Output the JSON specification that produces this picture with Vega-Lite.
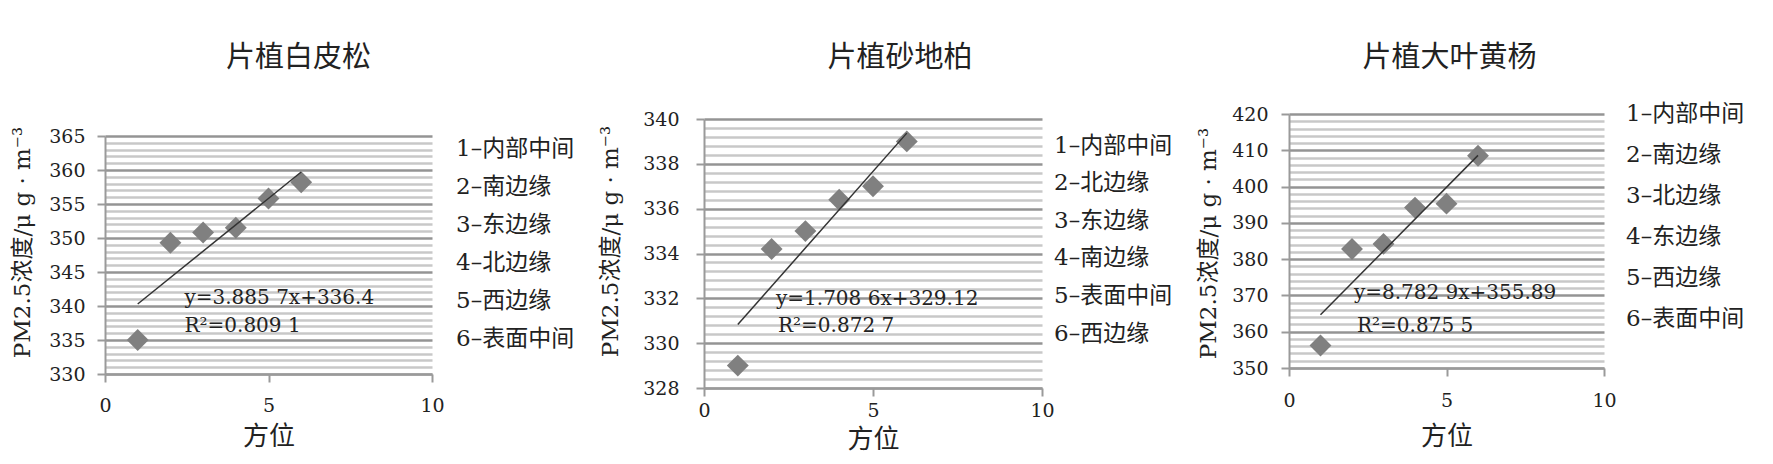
{
  "$schema": "https://vega.github.io/schema/vega-lite/v6.json",
  "background": "white",
  "padding": {"left": 11, "top": 44, "right": 5, "bottom": 0},
  "spacing": 24,
  "datasets": {
    "p1": [
      {"pos": 1, "pm": 335.0, "label": "1–内部中间"},
      {"pos": 2, "pm": 349.3, "label": "2–南边缘"},
      {"pos": 3, "pm": 350.8, "label": "3–东边缘"},
      {"pos": 4, "pm": 351.5, "label": "4–北边缘"},
      {"pos": 5, "pm": 355.8, "label": "5–西边缘"},
      {"pos": 6, "pm": 358.2, "label": "6–表面中间"}
    ],
    "p1t": [{"pos": 1, "pm": 340.29}, {"pos": 6, "pm": 359.71}],
    "p1e": [
      {"pos": 2.43, "pm": 341.2, "text": "y=3.885 7x+336.4"},
      {"pos": 2.43, "pm": 337.1, "text": "R²=0.809 1"}
    ],
    "p2": [
      {"pos": 1, "pm": 329.0, "label": "1–内部中间"},
      {"pos": 2, "pm": 334.2, "label": "2–北边缘"},
      {"pos": 3, "pm": 335.0, "label": "3–东边缘"},
      {"pos": 4, "pm": 336.4, "label": "4–南边缘"},
      {"pos": 5, "pm": 337.0, "label": "5–表面中间"},
      {"pos": 6, "pm": 339.0, "label": "6–西边缘"}
    ],
    "p2t": [{"pos": 1, "pm": 330.83}, {"pos": 6, "pm": 339.37}],
    "p2e": [
      {"pos": 2.13, "pm": 331.99, "text": "y=1.708 6x+329.12"},
      {"pos": 2.19, "pm": 330.78, "text": "R²=0.872 7"}
    ],
    "p3": [
      {"pos": 1, "pm": 356.2, "label": "1–内部中间"},
      {"pos": 2, "pm": 382.8, "label": "2–南边缘"},
      {"pos": 3, "pm": 384.2, "label": "3–北边缘"},
      {"pos": 4, "pm": 394.2, "label": "4–东边缘"},
      {"pos": 5, "pm": 395.3, "label": "5–西边缘"},
      {"pos": 6, "pm": 408.5, "label": "6–表面中间"}
    ],
    "p3t": [{"pos": 1, "pm": 364.67}, {"pos": 6, "pm": 408.59}],
    "p3e": [
      {"pos": 2.06, "pm": 370.7, "text": "y=8.782 9x+355.89"},
      {"pos": 2.16, "pm": 361.6, "text": "R²=0.875 5"}
    ]
  },
  "hconcat": [
    {
      "width": 327, "height": 276,
      "title": {"text": "片植白皮松", "font": "Noto Sans CJK SC", "fontSize": 29, "fontWeight": "normal", "color": "#222", "frame": "group", "anchor": "middle", "dx": 30, "offset": 25},
      "layer": [
        {
          "data": {"name": "p1"},
          "mark": {"type": "point", "shape": "diamond", "filled": true, "size": 480, "opacity": 1},
          "encoding": {
            "x": {"field": "pos", "type": "quantitative", "scale": {"domain": [0, 10], "nice": false},
              "axis": {"values": [0, 5, 10], "tickCount": 100, "grid": false, "format": "d", "labelFlush": false, "title": "方位", "titleFont": "Noto Sans CJK SC", "titleFontSize": 26, "titleFontWeight": "normal", "titleColor": "#222", "titlePadding": 8, "labelFont": "DejaVu Serif", "labelFontSize": 19, "labelColor": "#222", "labelPadding": 14, "tickSize": 8, "tickColor": "#9a9a9a", "tickWidth": 2, "domainColor": "#9a9a9a", "domainWidth": 2}},
            "y": {"field": "pm", "type": "quantitative", "scale": {"domain": [330, 365], "range": [276, 38], "nice": false, "zero": false},
              "axis": {"values": [330,331,332,333,334,335,336,337,338,339,340,341,342,343,344,345,346,347,348,349,350,351,352,353,354,355,356,357,358,359,360,361,362,363,364,365],
                "tickCount": 100, "tickMinStep": 0.01, "labelExpr": "datum.value % 5 === 0 ? format(datum.value, 'd') : ''", "labelOverlap": false, "labelFont": "DejaVu Serif", "labelFontSize": 19, "labelColor": "#222", "labelPadding": 12,
                "grid": true, "gridColor": {"condition": {"test": "datum.value % 5 === 0", "value": "#949494"}, "value": "#c8c8c8"}, "gridWidth": 2.5,
                "tickSize": 8, "tickWidth": 2, "tickColor": "#9a9a9a", "tickOpacity": {"condition": {"test": "datum.value % 5 === 0", "value": 1}, "value": 0},
                "domainColor": "#9a9a9a", "domainWidth": 2,
                "title": "PM2.5浓度/μ g · m⁻³", "titleFont": "DejaVu Serif, Noto Sans CJK SC", "titleFontSize": 23, "titleFontWeight": "normal", "titleColor": "#222", "titleX": -83, "titleY": 144, "titleBaseline": "middle", "titleAlign": "center", "titleAngle": -90}},
            "color": {"field": "label", "type": "nominal", "scale": {"range": ["#808080"]},
              "legend": {"orient": "none", "legendX": 328, "legendY": 39, "title": null, "symbolOpacity": 0, "symbolSize": 0, "symbolStrokeWidth": 0, "labelOffset": 0, "padding": 0, "labelFont": "DejaVu Serif, Noto Sans CJK SC", "labelFontSize": 23, "labelColor": "#222", "rowPadding": 14, "labelLimit": 300}}
          }
        },
        {
          "data": {"name": "p1t"},
          "mark": {"type": "line", "color": "#333", "strokeWidth": 1.5},
          "encoding": {"x": {"field": "pos", "type": "quantitative"}, "y": {"field": "pm", "type": "quantitative"}}
        },
        {
          "data": {"name": "p1e"},
          "mark": {"type": "text", "align": "left", "baseline": "middle", "font": "DejaVu Serif", "fontSize": 20, "color": "#222"},
          "encoding": {"x": {"field": "pos", "type": "quantitative"}, "y": {"field": "pm", "type": "quantitative"}, "text": {"field": "text"}}
        }
      ]
    },
    {
      "width": 338, "height": 290,
      "title": {"text": "片植砂地柏", "font": "Noto Sans CJK SC", "fontSize": 29, "fontWeight": "normal", "color": "#222", "frame": "group", "anchor": "middle", "dx": 27, "offset": 25},
      "layer": [
        {
          "data": {"name": "p2"},
          "mark": {"type": "point", "shape": "diamond", "filled": true, "size": 480, "opacity": 1},
          "encoding": {
            "x": {"field": "pos", "type": "quantitative", "scale": {"domain": [0, 10], "nice": false},
              "axis": {"values": [0, 5, 10], "tickCount": 100, "grid": false, "format": "d", "labelFlush": false, "title": "方位", "titleFont": "Noto Sans CJK SC", "titleFontSize": 26, "titleFontWeight": "normal", "titleColor": "#222", "titlePadding": 6, "labelFont": "DejaVu Serif", "labelFontSize": 19, "labelColor": "#222", "labelPadding": 5, "tickSize": 8, "tickColor": "#9a9a9a", "tickWidth": 2, "domainColor": "#9a9a9a", "domainWidth": 2}},
            "y": {"field": "pm", "type": "quantitative", "scale": {"domain": [328, 340], "range": [290, 21], "nice": false, "zero": false},
              "axis": {"values": [328,328.4,328.8,329.2,329.6,330,330.4,330.8,331.2,331.6,332,332.4,332.8,333.2,333.6,334,334.4,334.8,335.2,335.6,336,336.4,336.8,337.2,337.6,338,338.4,338.8,339.2,339.6,340],
                "tickCount": 100, "tickMinStep": 0.01, "labelExpr": "datum.value % 2 === 0 ? format(datum.value, 'd') : ''", "labelOverlap": false, "labelFont": "DejaVu Serif", "labelFontSize": 19, "labelColor": "#222", "labelPadding": 17,
                "grid": true, "gridColor": {"condition": {"test": "datum.value % 2 === 0", "value": "#949494"}, "value": "#c8c8c8"}, "gridWidth": 2.5,
                "tickSize": 8, "tickWidth": 2, "tickColor": "#9a9a9a", "tickOpacity": {"condition": {"test": "datum.value % 2 === 0", "value": 1}, "value": 0},
                "domainColor": "#9a9a9a", "domainWidth": 2,
                "title": "PM2.5浓度/μ g · m⁻³", "titleFont": "DejaVu Serif, Noto Sans CJK SC", "titleFontSize": 23, "titleFontWeight": "normal", "titleColor": "#222", "titleX": -94, "titleY": 143, "titleBaseline": "middle", "titleAlign": "center", "titleAngle": -90}},
            "color": {"field": "label", "type": "nominal", "scale": {"range": ["#808080"]},
              "legend": {"orient": "none", "legendX": 327, "legendY": 36, "title": null, "symbolOpacity": 0, "symbolSize": 0, "symbolStrokeWidth": 0, "labelOffset": 0, "padding": 0, "labelFont": "DejaVu Serif, Noto Sans CJK SC", "labelFontSize": 23, "labelColor": "#222", "rowPadding": 13.6, "labelLimit": 300}}
          }
        },
        {
          "data": {"name": "p2t"},
          "mark": {"type": "line", "color": "#333", "strokeWidth": 1.5},
          "encoding": {"x": {"field": "pos", "type": "quantitative"}, "y": {"field": "pm", "type": "quantitative"}}
        },
        {
          "data": {"name": "p2e"},
          "mark": {"type": "text", "align": "left", "baseline": "middle", "font": "DejaVu Serif", "fontSize": 20, "color": "#222"},
          "encoding": {"x": {"field": "pos", "type": "quantitative"}, "y": {"field": "pm", "type": "quantitative"}, "text": {"field": "text"}}
        }
      ]
    },
    {
      "width": 315, "height": 270,
      "title": {"text": "片植大叶黄杨", "font": "Noto Sans CJK SC", "fontSize": 29, "fontWeight": "normal", "color": "#222", "frame": "group", "anchor": "middle", "dx": 3, "offset": 25},
      "layer": [
        {
          "data": {"name": "p3"},
          "mark": {"type": "point", "shape": "diamond", "filled": true, "size": 480, "opacity": 1},
          "encoding": {
            "x": {"field": "pos", "type": "quantitative", "scale": {"domain": [0, 10], "nice": false},
              "axis": {"values": [0, 5, 10], "tickCount": 100, "grid": false, "format": "d", "labelFlush": false, "title": "方位", "titleFont": "Noto Sans CJK SC", "titleFontSize": 26, "titleFontWeight": "normal", "titleColor": "#222", "titlePadding": 13, "labelFont": "DejaVu Serif", "labelFontSize": 19, "labelColor": "#222", "labelPadding": 15, "tickSize": 8, "tickColor": "#9a9a9a", "tickWidth": 2, "domainColor": "#9a9a9a", "domainWidth": 2}},
            "y": {"field": "pm", "type": "quantitative", "scale": {"domain": [350, 420], "range": [270, 16], "nice": false, "zero": false},
              "axis": {"values": [350,352,354,356,358,360,362,364,366,368,370,372,374,376,378,380,382,384,386,388,390,392,394,396,398,400,402,404,406,408,410,412,414,416,418,420],
                "tickCount": 100, "tickMinStep": 0.01, "labelExpr": "datum.value % 10 === 0 ? format(datum.value, 'd') : ''", "labelOverlap": false, "labelFont": "DejaVu Serif", "labelFontSize": 19, "labelColor": "#222", "labelPadding": 13,
                "grid": true, "gridColor": {"condition": {"test": "datum.value % 10 === 0", "value": "#949494"}, "value": "#c8c8c8"}, "gridWidth": 2.5,
                "tickSize": 8, "tickWidth": 2, "tickColor": "#9a9a9a", "tickOpacity": {"condition": {"test": "datum.value % 10 === 0", "value": 1}, "value": 0},
                "domainColor": "#9a9a9a", "domainWidth": 2,
                "title": "PM2.5浓度/μ g · m⁻³", "titleFont": "DejaVu Serif, Noto Sans CJK SC", "titleFontSize": 23, "titleFontWeight": "normal", "titleColor": "#222", "titleX": -81, "titleY": 145, "titleBaseline": "middle", "titleAlign": "center", "titleAngle": -90}},
            "color": {"field": "label", "type": "nominal", "scale": {"range": ["#808080"]},
              "legend": {"orient": "none", "legendX": 314, "legendY": 4, "title": null, "symbolOpacity": 0, "symbolSize": 0, "symbolStrokeWidth": 0, "labelOffset": 0, "padding": 0, "labelFont": "DejaVu Serif, Noto Sans CJK SC", "labelFontSize": 23, "labelColor": "#222", "rowPadding": 17, "labelLimit": 300}}
          }
        },
        {
          "data": {"name": "p3t"},
          "mark": {"type": "line", "color": "#333", "strokeWidth": 1.5},
          "encoding": {"x": {"field": "pos", "type": "quantitative"}, "y": {"field": "pm", "type": "quantitative"}}
        },
        {
          "data": {"name": "p3e"},
          "mark": {"type": "text", "align": "left", "baseline": "middle", "font": "DejaVu Serif", "fontSize": 20, "color": "#222"},
          "encoding": {"x": {"field": "pos", "type": "quantitative"}, "y": {"field": "pm", "type": "quantitative"}, "text": {"field": "text"}}
        }
      ]
    }
  ],
  "resolve": {"scale": {"x": "independent", "y": "independent", "color": "independent"}},
  "config": {"view": {"stroke": null}}
}
